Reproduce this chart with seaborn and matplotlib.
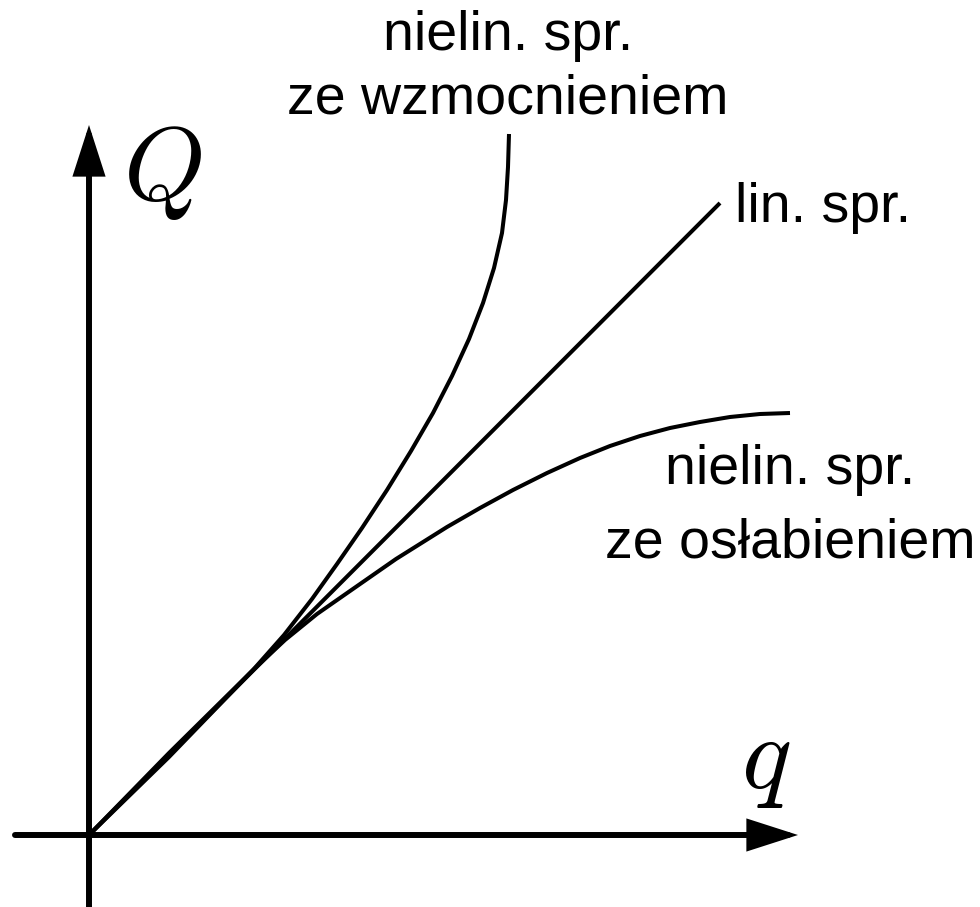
import numpy as np
import pandas as pd
import matplotlib
matplotlib.use("Agg")
import matplotlib.pyplot as plt
from matplotlib.patches import FancyArrowPatch
import seaborn as sns

# Characteristic curves Q(q) of a spring (displacement q, force Q)
q_lin = [0, 631]
Q_lin = [0, 632]

q_stiff = [0, 80, 164, 195, 223, 248, 273, 298, 322, 344, 363, 380, 394, 405, 413, 417, 419, 420]
Q_stiff = [0, 78, 165, 200, 236, 271, 307, 345, 384, 422, 459, 496, 532, 567, 602, 635, 668, 701]

q_soft = [0, 80, 164, 196, 228, 261, 307, 358, 391, 424, 458, 491, 521, 551, 581, 611, 641, 671, 701]
Q_soft = [0, 82, 165, 195, 221, 244, 276, 308, 327, 345, 362, 377, 389, 399, 407, 413, 418, 421, 422]

curve_names = ["nielin. spr. ze wzmocnieniem", "lin. spr.", "nielin. spr. ze osłabieniem"]

df = pd.concat([
    pd.DataFrame({"q": q_stiff, "Q": Q_stiff, "curve": curve_names[0]}),
    pd.DataFrame({"q": q_lin, "Q": Q_lin, "curve": curve_names[1]}),
    pd.DataFrame({"q": q_soft, "Q": Q_soft, "curve": curve_names[2]}),
], ignore_index=True)

sns.set_theme(style="white")
plt.rcParams["font.family"] = ["Liberation Sans", "DejaVu Sans"]
plt.rcParams["mathtext.fontset"] = "cm"
plt.rcParams["text.color"] = "black"

W, H = 980, 907
fig = plt.figure(figsize=(W / 100, H / 100), dpi=100)
ax = fig.add_axes([0, 0, 1, 1])
ox, oy = 89, 835
ax.set_xlim(-ox, W - ox)
ax.set_ylim(-(H - oy), oy)
ax.set_axis_off()

sns.lineplot(data=df, x="q", y="Q", hue="curve", palette=["black"] * 3,
             estimator=None, sort=False, linewidth=2.9, legend=False, ax=ax)
for ln in ax.get_lines():
    ln.set_solid_capstyle("butt")
    ln.set_solid_joinstyle("round")

# coordinate axes with arrow heads
axis_kw = dict(arrowstyle="-|>,head_length=28,head_width=9", mutation_scale=1,
               color="black", linewidth=4.3, shrinkA=0, shrinkB=0, joinstyle="miter")
ax.add_patch(FancyArrowPatch((-74, 0), (709, 0), **axis_kw))
ax.add_patch(FancyArrowPatch((0, -72), (0, 710), **axis_kw))

# axis symbols
ax.text(34, 635, r"$Q$", fontsize=75, ha="left", va="baseline")
ax.text(652, 47, r"$q$", fontsize=75, ha="left", va="baseline")

# curve labels
fs = 40
ax.text(419, 785, "nielin. spr.", fontsize=fs, ha="center", va="baseline")
ax.text(419, 722, "ze wzmocnieniem", fontsize=fs, ha="center", va="baseline")
ax.text(646, 613, "lin. spr.", fontsize=fs, ha="left", va="baseline")
ax.text(701, 351, "nielin. spr.", fontsize=fs, ha="center", va="baseline")
ax.text(701, 278, "ze osłabieniem", fontsize=fs, ha="center", va="baseline")

fig.savefig("out.png", dpi=100, facecolor="white")
